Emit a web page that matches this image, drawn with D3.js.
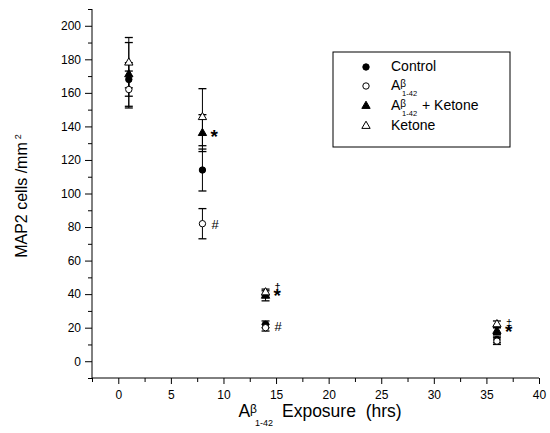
<!DOCTYPE html>
<html><head><meta charset="utf-8">
<script src="https://cdn.jsdelivr.net/npm/d3@7"></script>
<style>body{margin:0;background:#fff}svg{display:block}text{font-family:Arial,"Liberation Sans",Helvetica,sans-serif}</style>
</head><body>
<script>
// ---- data ----
const times = [1, 8, 14, 36];
const seriesNames = ["Control", "Aβ1-42", "Aβ1-42 + Ketone", "Ketone"];
const controlMean = [168, 114, 22, 13];
const controlErr  = [10, 12.5, 2, 2];
const abMean      = [162, 82, 20, 12];
const abErr       = [11, 9, 2, 2];
const abKetMean   = [171, 136, 39, 18];
const abKetErr    = [19, 11, 3, 2];
const ketoneMean  = [178, 145.5, 41, 22];
const ketoneErr   = [15, 17, 2, 2];
const xTickLabels = [0, 5, 10, 15, 20, 25, 30, 35, 40];
const yTickLabels = [0, 20, 40, 60, 80, 100, 120, 140, 160, 180, 200];
const annotTime  = [8, 8, 14, 14, 14, 36, 36];
const annotValue = [136, 82, 41, 41, 21, 20, 20];
const annotText  = ["*", "#", "†", "*", "#", "‡", "*"];

const W = 550, H = 433;
const svg = d3.select("body").append("svg").attr("width", W).attr("height", H);
const x = d3.scaleLinear().domain([-2.5, 40]).range([92, 539]);
const y = d3.scaleLinear().domain([-10, 210]).range([378, 9]);

// axes
const yMinor = d3.range(-10, 211, 10).filter(v => !yTickLabels.includes(v));
svg.append("g").attr("transform", `translate(${x(-2.5)},0)`)
  .call(d3.axisLeft(y).tickValues(yMinor).tickSize(4).tickFormat(""))
  .call(g => g.select(".domain").remove());
svg.append("g").attr("transform", `translate(${x(-2.5)},0)`)
  .call(d3.axisLeft(y).tickValues(yTickLabels).tickSize(7).tickSizeOuter(0).tickPadding(4))
  .call(g => g.select(".domain").attr("d", `M0,${y(210)}V${y(-10)}`));
const xMinor = d3.range(-2.5, 40.1, 2.5).filter(v => !xTickLabels.includes(v));
svg.append("g").attr("transform", `translate(0,${y(-10)})`)
  .call(d3.axisBottom(x).tickValues(xMinor).tickSize(4).tickFormat(""))
  .call(g => g.select(".domain").remove());
svg.append("g").attr("transform", `translate(0,${y(-10)})`)
  .call(d3.axisBottom(x).tickValues(xTickLabels).tickSize(6).tickSizeOuter(0).tickPadding(6))
  .call(g => g.select(".domain").attr("d", `M${x(-2.5)},0H${x(40)}`));
svg.selectAll(".tick text").attr("font-size", 12).attr("fill", "#000")
  .attr("font-family", "Arial, 'Liberation Sans', sans-serif");
svg.selectAll(".tick line, .domain").attr("stroke", "#000");

// series
const series = [
  {name: seriesNames[0], m: controlMean, e: controlErr, sym: "circle", fill: "#000"},
  {name: seriesNames[1], m: abMean, e: abErr, sym: "circle", fill: "#fff"},
  {name: seriesNames[2], m: abKetMean, e: abKetErr, sym: "triangle", fill: "#000"},
  {name: seriesNames[3], m: ketoneMean, e: ketoneErr, sym: "triangle", fill: "#fff"}
];
const capW = 8;
series.forEach(s => {
  const g = svg.append("g");
  times.forEach((t, i) => {
    const cx = x(t);
    g.append("line").attr("x1", cx).attr("x2", cx)
      .attr("y1", y(s.m[i] - s.e[i])).attr("y2", y(s.m[i] + s.e[i]))
      .attr("stroke", "#000").attr("stroke-width", 1);
    [s.m[i] - s.e[i], s.m[i] + s.e[i]].forEach(v => {
      g.append("line").attr("x1", cx - capW / 2).attr("x2", cx + capW / 2)
        .attr("y1", y(v)).attr("y2", y(v)).attr("stroke", "#000").attr("stroke-width", 1.3);
    });
  });
});
function drawSym(g, sym, fill, cx, cy) {
  if (sym === "circle") {
    g.append("circle").attr("cx", cx).attr("cy", cy).attr("r", 3.2)
      .attr("fill", fill).attr("stroke", "#000").attr("stroke-width", 1);
  } else {
    g.append("path").attr("d", d3.symbol(d3.symbolTriangle, 30)())
      .attr("transform", `translate(${cx},${cy})`)
      .attr("fill", fill).attr("stroke", "#000").attr("stroke-width", 1);
  }
}
series.forEach(s => {
  const g = svg.append("g");
  times.forEach((t, i) => drawSym(g, s.sym, s.fill, x(t), y(s.m[i])));
});

// annotations: star baseline 10px below the value, dagger marks stacked just above the star
annotText.forEach((txt, i) => {
  const star = txt === "*", hash = txt === "#";
  const dy = star ? 10 : (hash ? 5 : -1);
  svg.append("text").attr("x", x(annotTime[i]) + (star ? 8 : 9)).attr("y", y(annotValue[i]) + dy)
    .attr("font-size", star ? 19 : (hash ? 13 : 11))
    .attr("font-weight", star ? "bold" : "normal").attr("fill", "#000").text(txt);
});

// legend
const lg = svg.append("g");
lg.append("rect").attr("x", 333).attr("y", 52).attr("width", 177).attr("height", 95)
  .attr("fill", "#fff").attr("stroke", "#000").attr("stroke-width", 1);
const rowY = [67, 86, 106, 126];
series.forEach((s, i) => {
  drawSym(lg, s.sym, s.fill, 366, rowY[i]);
  const t = lg.append("text").attr("x", 391).attr("y", rowY[i] + 4).attr("font-size", 14).attr("fill", "#000");
  if (i === 1 || i === 2) {
    t.append("tspan").text("A");
    t.append("tspan").attr("font-size", 10).attr("dy", -3).text("β");
    t.append("tspan").attr("font-size", 7.5).attr("dy", 9).attr("dx", -4).text("1-42");
    if (i === 2) t.append("tspan").attr("dy", -6).attr("dx", 1).text(" + Ketone");
  } else {
    t.text(s.name);
  }
});

// axis titles
const yl = svg.append("text").attr("transform", "translate(27,196) rotate(-90)")
  .attr("text-anchor", "middle").attr("font-size", 16).attr("fill", "#000");
yl.append("tspan").text("MAP2 cells /mm");
yl.append("tspan").attr("font-size", 9).attr("dy", -6).attr("dx", 3).text("2");
const xl = svg.append("text").attr("x", 320).attr("y", 417)
  .attr("text-anchor", "middle").attr("font-size", 17.5).attr("fill", "#000");
xl.append("tspan").text("A");
xl.append("tspan").attr("font-size", 12).attr("dy", -4).text("β");
xl.append("tspan").attr("font-size", 9).attr("dy", 13).attr("dx", -2).text("1-42");
xl.append("tspan").attr("dy", -9).attr("dx", 9).text("Exposure  (hrs)").attr("xml:space", "preserve");
</script>
</body></html>
